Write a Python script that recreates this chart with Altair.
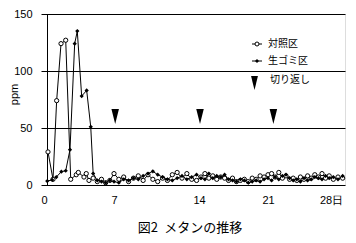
import altair as alt
import pandas as pd

# 対照区 (control) — peak region then daily low region
ctrl_day_peak = [0.67, 1.15, 1.5, 1.92, 2.37, 2.85, 3.38, 3.58, 4.12, 4.34, 4.6]
ctrl_val_peak = [29, 5, 74, 124, 127, 5, 9, 11, 7, 10, 4]

# 生ゴミ区 (food waste)
gomi_day_peak = [0.6, 1.08, 1.47, 1.95, 2.37, 2.78, 3.23, 3.48, 3.9, 4.38, 4.77]
gomi_val_peak = [3.5, 4.4, 7, 11.7, 12.5, 31, 124, 135, 78, 83, 51]

low_days = [5.0, 5.4, 5.8, 6.2, 6.6, 7.0, 7.4, 7.8, 8.2, 8.6, 9.0, 9.4, 9.8,
            10.2, 10.6, 11.0, 11.4, 11.8, 12.2, 12.6, 13.0, 13.4, 13.8, 14.2,
            14.6, 15.0, 15.4, 15.8, 16.2, 16.6, 17.0, 17.4, 17.8, 18.2, 18.6,
            19.0, 19.4, 19.8, 20.2, 20.6, 21.0, 21.4, 21.8, 22.2, 22.6, 23.0,
            23.4, 23.8, 24.2, 24.6, 25.0, 25.4, 25.8, 26.2, 26.6, 27.0, 27.4,
            27.8, 28.2, 28.6, 29.0]
ctrl_low = [6, 3, 5, 2, 4, 10, 5, 7, 3, 6, 8, 4, 9, 5, 3, 6, 4, 9, 11, 6, 10,
            5, 4, 7, 10, 6, 8, 5, 7, 6, 4, 6, 3, 4, 5, 3, 6, 5, 8, 7, 9, 10, 7,
            11, 6, 8, 5, 6, 4, 7, 5, 8, 6, 9, 7, 10, 6, 8, 5, 7, 6]
gomi_low = [10, 4, 3, 2, 4, 3, 2, 5, 4, 6, 5, 8, 10, 12, 9, 7, 5, 4, 6, 8, 5,
            7, 9, 6, 5, 10, 6, 8, 7, 9, 5, 4, 3, 5, 4, 2, 3, 4, 3, 5, 6, 4, 7,
            5, 8, 9, 6, 4, 5, 3, 6, 4, 5, 7, 6, 5, 8, 6, 7, 5, 8]

turn_days = [7.1, 14.1, 21.6]
turn_level = [60, 60, 60]

x_ticks = [0, 7, 14, 21, 28]
y_ticks = [0, 50, 100, 150]

rows = []
for d, v in zip(ctrl_day_peak + low_days, ctrl_val_peak + ctrl_low):
    rows.append({"day": d, "ppm": v, "series": "対照区"})
for d, v in zip(gomi_day_peak + low_days, gomi_val_peak + gomi_low):
    rows.append({"day": d, "ppm": v, "series": "生ゴミ区"})
df = pd.DataFrame(rows)
ctrl = df[df.series == "対照区"]
gomi = df[df.series == "生ゴミ区"]
turns = pd.DataFrame({"day": turn_days, "ppm": turn_level})

FONT = "Liberation Sans"
JFONT = "Noto Sans CJK JP"
TRI = "M-0.5,-1L0.5,-1L0,1Z"

xscale = alt.Scale(domain=[0, 7, 14, 21, 28, 29.2],
                   range=[-6, 67, 152, 221, 284, 298], zero=False, nice=False)
yscale = alt.Scale(domain=[0, 150], nice=False)

xenc = alt.X("day:Q", scale=xscale,
             axis=alt.Axis(values=x_ticks, title=None, domain=False, ticks=False,
                           grid=False, labelFont=FONT, labelFontSize=11,
                           labelColor="black", labelPadding=9,
                           labelExpr="datum.value == 28 ? '28日' : datum.label"))
yenc = alt.Y("ppm:Q", scale=yscale,
             axis=alt.Axis(values=y_ticks, title="ppm", ticks=False, grid=True,
                           gridColor="black", gridOpacity=1, gridWidth=1,
                           domain=True, domainColor="black", domainWidth=1,
                           labelFont=FONT, labelFontSize=11, labelColor="black",
                           labelPadding=15, titleFont=FONT, titleFontSize=11,
                           titleFontWeight="normal", titleColor="black",
                           titleX=-33, titleY=80, titleAngle=270,
                           titleAlign="center", titleBaseline="middle"))

ctrl_line = alt.Chart(ctrl).mark_line(color="black", strokeWidth=1).encode(x=xenc, y=yenc)
ctrl_pts = alt.Chart(ctrl).mark_point(shape="circle", size=18, filled=True,
                                      fill="white", stroke="black", strokeWidth=1,
                                      opacity=1).encode(x="day:Q", y="ppm:Q")
gomi_line = alt.Chart(gomi).mark_line(color="black", strokeWidth=1).encode(x="day:Q", y="ppm:Q")
gomi_pts = alt.Chart(gomi).mark_point(shape="diamond", size=18, filled=True,
                                      color="black", opacity=1).encode(x="day:Q", y="ppm:Q")
turn_pts = alt.Chart(turns).mark_point(shape=TRI, size=225, filled=True,
                                       color="black", opacity=1).encode(x="day:Q", y="ppm:Q")

one = alt.Data(values=[{}])
# manual legend
leg = []
leg.append(alt.Chart(one).mark_rule(color="black", strokeWidth=1).encode(
    x=alt.value(205), x2=alt.value(215), y=alt.value(30)))
leg.append(alt.Chart(one).mark_point(shape="circle", size=16, filled=True, fill="white",
                                     stroke="black", strokeWidth=1, opacity=1).encode(
    x=alt.value(210), y=alt.value(30)))
leg.append(alt.Chart(one).mark_text(text="対照区", font=JFONT, fontSize=10, align="left",
                                    baseline="middle", color="black").encode(
    x=alt.value(221), y=alt.value(30)))
leg.append(alt.Chart(one).mark_rule(color="black", strokeWidth=1).encode(
    x=alt.value(205), x2=alt.value(215), y=alt.value(47)))
leg.append(alt.Chart(one).mark_point(shape="diamond", size=16, filled=True,
                                     color="black", opacity=1).encode(
    x=alt.value(210), y=alt.value(47)))
leg.append(alt.Chart(one).mark_text(text="生ゴミ区", font=JFONT, fontSize=10, align="left",
                                    baseline="middle", color="black").encode(
    x=alt.value(221), y=alt.value(47)))
leg.append(alt.Chart(one).mark_point(shape=TRI, size=190, filled=True,
                                     color="black", opacity=1).encode(
    x=alt.value(207.5), y=alt.value(69)))
leg.append(alt.Chart(one).mark_text(text="切り返し", font=JFONT, fontSize=10, align="left",
                                    baseline="middle", color="black").encode(
    x=alt.value(223), y=alt.value(66)))
title = alt.Chart(one).mark_text(text="図2\u2002メタンの推移", font=JFONT, fontSize=13,
                                 align="center", baseline="middle", color="black").encode(
    x=alt.value(143), y=alt.value(214))

chart = alt.layer(ctrl_line, gomi_line, ctrl_pts, gomi_pts, turn_pts, *leg, title).properties(
    width=298, height=171,
    autosize=alt.AutoSizeParams(type="none"),
    padding={"left": 47, "top": 14, "right": 11, "bottom": 58},
).configure_view(stroke=None).configure(background="white")

chart.save("out.html", embed_options={"renderer": "svg", "actions": False})
